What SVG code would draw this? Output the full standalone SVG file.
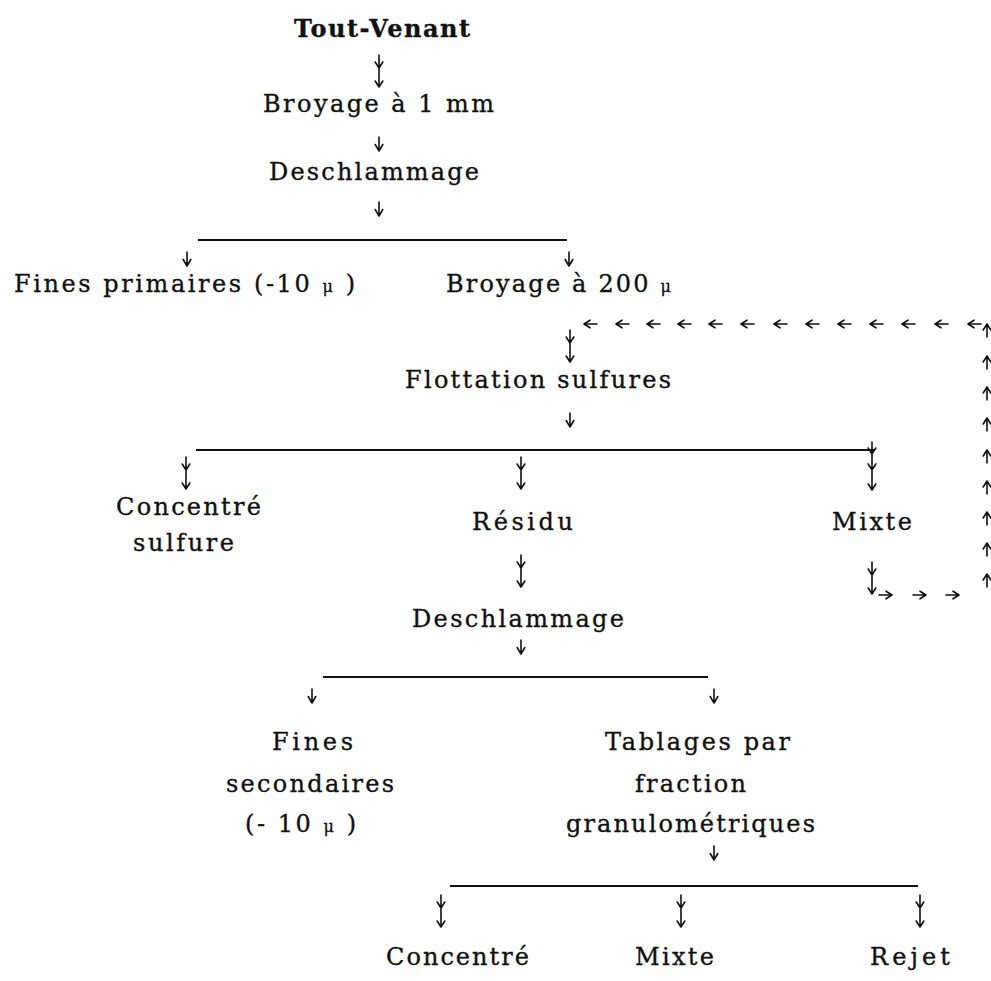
<svg xmlns="http://www.w3.org/2000/svg" xmlns:xlink="http://www.w3.org/1999/xlink" width="991" height="981" viewBox="0 0 991 981">
<style>
  .t { font-family: "DejaVu Serif", "Liberation Serif", serif; font-size: 24px; fill: #111; stroke: #111; stroke-width: 0.35; }
  .b { font-weight: bold; }
  .mu { font-size: 16px; }
  .ln { stroke: #111; stroke-width: 2; fill: none; }
  .ar { stroke: #111; stroke-width: 1.6; fill: none; stroke-linecap: round; stroke-linejoin: round; }
</style>
<defs>
  <path id="down" class="ar" d="M0,0 V14 M-3.8,7.5 L0,14 L3.8,7.5"/>
  <path id="dbl" class="ar" d="M0,0 V32 M-3.8,7 L0,13 L3.8,7 M-3.8,26 L0,32 L3.8,26"/>
  <path id="tri" class="ar" d="M0,-8 V40 M-3.8,-2 L0,4 L3.8,-2 M-3.8,14 L0,20 L3.8,14 M-3.8,34 L0,40 L3.8,34"/>
  <path id="left" class="ar" d="M0,0 H13 M6,-3.8 L0,0 L6,3.8"/>
  <path id="up" class="ar" d="M0,0 V13 M-3.8,6 L0,0 L3.8,6"/>
  <path id="right" class="ar" d="M0,0 H13 M7,-3.8 L13,0 L7,3.8"/>
</defs>
<rect width="991" height="981" fill="#fff"/>

<g id="n-toutvenant"><text class="t b" x="294" y="37" textLength="176" lengthAdjust="spacing">Tout-Venant</text></g>
<g id="n-broyage1"><text class="t" x="263" y="112" textLength="231" lengthAdjust="spacing">Broyage à 1 mm</text></g>
<g id="n-deschl1"><text class="t" x="269" y="180" textLength="210" lengthAdjust="spacing">Deschlammage</text></g>
<g id="n-finesprim"><text class="t" x="14" y="292" textLength="341" lengthAdjust="spacing">Fines primaires (-10 <tspan class="mu">μ</tspan> )</text></g>
<g id="n-broyage200"><text class="t" x="446" y="292" textLength="225" lengthAdjust="spacing">Broyage à 200 <tspan class="mu">μ</tspan></text></g>
<g id="n-flottation"><text class="t" x="405" y="388" textLength="266" lengthAdjust="spacing">Flottation sulfures</text></g>
<g id="n-concsulf"><text class="t" x="116" y="515" textLength="145" lengthAdjust="spacing">Concentré</text><text class="t" x="133" y="551" textLength="101" lengthAdjust="spacing">sulfure</text></g>
<g id="n-residu"><text class="t" x="472" y="530" textLength="101" lengthAdjust="spacing">Résidu</text></g>
<g id="n-mixte1"><text class="t" x="832" y="530" textLength="80" lengthAdjust="spacing">Mixte</text></g>
<g id="n-deschl2"><text class="t" x="412" y="627" textLength="212" lengthAdjust="spacing">Deschlammage</text></g>
<g id="n-finessec"><text class="t" x="272" y="750" textLength="81" lengthAdjust="spacing">Fines</text><text class="t" x="226" y="792" textLength="168" lengthAdjust="spacing">secondaires</text><text class="t" x="245" y="832" textLength="111" lengthAdjust="spacing">(- 10 <tspan class="mu">μ</tspan> )</text></g>
<g id="n-tablages"><text class="t" x="605" y="750" textLength="185" lengthAdjust="spacing">Tablages par</text><text class="t" x="635" y="792" textLength="111" lengthAdjust="spacing">fraction</text><text class="t" x="566" y="832" textLength="249" lengthAdjust="spacing">granulométriques</text></g>
<g id="n-concentre"><text class="t" x="386" y="965" textLength="143" lengthAdjust="spacing">Concentré</text></g>
<g id="n-mixte2"><text class="t" x="635" y="965" textLength="79" lengthAdjust="spacing">Mixte</text></g>
<g id="n-rejet"><text class="t" x="870" y="965" textLength="80" lengthAdjust="spacing">Rejet</text></g>

<g id="connectors">
  <use href="#dbl" x="379" y="55"/>
  <use href="#down" x="379" y="137"/>
  <use href="#down" x="379" y="202"/>
  <line class="ln" x1="198" y1="240" x2="567" y2="240"/>
  <use href="#down" x="187" y="252"/>
  <use href="#down" x="569" y="252"/>
  <use href="#dbl" x="570" y="330"/>
  <use href="#down" x="570" y="413"/>
  <line class="ln" x1="196" y1="450" x2="874" y2="450"/>
  <use href="#dbl" x="186" y="457"/>
  <use href="#dbl" x="521" y="457"/>
  <use href="#tri" x="872" y="450"/>
  <use href="#dbl" x="521" y="555"/>
  <use href="#down" x="521" y="640"/>
  <line class="ln" x1="323" y1="677" x2="708" y2="677"/>
  <use href="#down" x="312" y="689"/>
  <use href="#down" x="714" y="689"/>
  <use href="#down" x="714" y="846"/>
  <line class="ln" x1="450" y1="886" x2="918" y2="886"/>
  <use href="#dbl" x="441" y="895"/>
  <use href="#dbl" x="681" y="895"/>
  <use href="#dbl" x="920" y="895"/>
  <use href="#dbl" x="872" y="562"/>
  <use href="#right" x="879" y="595"/>
  <use href="#right" x="913" y="595"/>
  <use href="#right" x="946" y="595"/>
  <use href="#up" x="987" y="574"/>
  <use href="#up" x="987" y="543"/>
  <use href="#up" x="987" y="512"/>
  <use href="#up" x="987" y="481"/>
  <use href="#up" x="987" y="450"/>
  <use href="#up" x="987" y="418"/>
  <use href="#up" x="987" y="387"/>
  <use href="#up" x="987" y="356"/>
  <use href="#up" x="987" y="324"/>
  <use href="#left" x="968" y="324"/>
  <use href="#left" x="935" y="324"/>
  <use href="#left" x="902" y="324"/>
  <use href="#left" x="870" y="324"/>
  <use href="#left" x="838" y="324"/>
  <use href="#left" x="806" y="324"/>
  <use href="#left" x="774" y="324"/>
  <use href="#left" x="741" y="324"/>
  <use href="#left" x="709" y="324"/>
  <use href="#left" x="678" y="324"/>
  <use href="#left" x="647" y="324"/>
  <use href="#left" x="616" y="324"/>
  <use href="#left" x="584" y="324"/>
</g>
</svg>
